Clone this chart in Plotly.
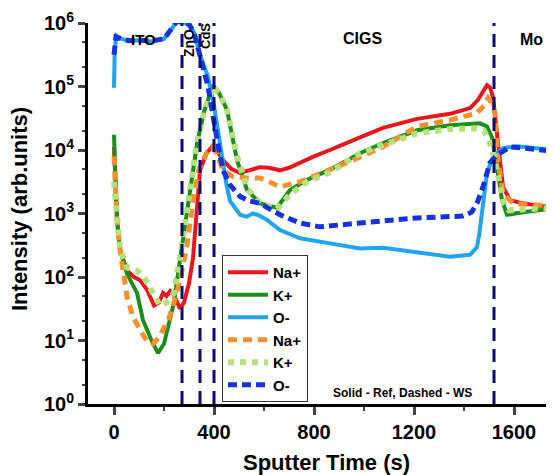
import plotly.graph_objects as go

# ---------------- data (intensities given as log10 decades) -------------
t_na_ref = [0, 4, 12, 24, 52, 80, 104, 132, 160, 180, 196, 210, 225, 240, 252, 264, 280, 300, 316, 332, 344, 370,
            392, 410, 436, 470, 504, 540, 584, 620, 664, 700, 744, 800, 864, 920, 984, 1076, 1212, 1344, 1424,
            1456, 1480, 1492, 1505, 1516, 1536, 1556, 1584, 1636, 1700, 1760]
na_ref_log = [4.05, 3.6, 2.9, 2.43, 2.1, 2.0, 1.95, 1.8, 1.55, 1.6, 1.75, 1.7, 1.78, 1.72, 1.62, 1.5, 1.6, 1.9, 2.3,
              3.0, 3.68, 3.95, 4.05, 4.0, 3.84, 3.7, 3.64, 3.68, 3.73, 3.72, 3.68, 3.72, 3.8, 3.9, 4.0, 4.1, 4.2,
              4.35, 4.49, 4.57, 4.66, 4.79, 4.95, 5.02, 4.98, 4.83, 4.11, 3.42, 3.21, 3.16, 3.12, 3.1]

t_k_ref = [0, 4, 12, 24, 52, 92, 116, 150, 176, 200, 220, 240, 264, 292, 332, 360, 396, 420, 452, 492, 532, 584,
           652, 704, 772, 864, 984, 1076, 1212, 1344, 1464, 1492, 1512, 1532, 1552, 1572, 1600, 1636, 1700, 1760]
k_ref_log = [4.24, 3.7, 2.9, 2.43, 2.05, 1.75, 1.32, 1.0, 0.8, 0.95, 1.3, 1.6, 2.27, 3.05, 4.1, 4.6, 5.02, 4.9,
             4.63, 3.84, 3.37, 3.16, 3.09, 3.37, 3.53, 3.69, 3.95, 4.11, 4.31, 4.39, 4.42, 4.37, 4.2, 3.73, 3.21,
             2.98, 3.0, 3.02, 3.05, 3.08]

t_o_ref = [0, 3, 10, 30, 60, 100, 150, 200, 230, 250, 270, 300, 320, 344, 376, 400, 424, 436, 450, 464, 504, 530,
           556, 580, 612, 664, 744, 864, 984, 1076, 1212, 1344, 1424, 1452, 1462, 1472, 1492, 1516, 1556, 1612,
           1700, 1760]
o_ref_log = [4.98, 5.6, 5.8, 5.75, 5.72, 5.73, 5.71, 5.75, 5.9, 6.02, 6.02, 5.98, 5.85, 5.5, 5.15, 4.7, 4.1, 3.75,
             3.45, 3.2, 2.98, 2.95, 3.0, 2.97, 2.9, 2.74, 2.61, 2.53, 2.45, 2.46, 2.39, 2.32, 2.35, 2.47, 2.7,
             3.06, 3.64, 3.89, 4.03, 4.06, 4.02, 4.0]

t_na_ws = [0, 4, 12, 24, 52, 76, 100, 130, 156, 180, 200, 220, 240, 264, 292, 316, 340, 370, 392, 410, 436, 476,
           530, 584, 620, 664, 744, 864, 956, 1076, 1212, 1344, 1452, 1480, 1496, 1510, 1524, 1536, 1556, 1596,
           1650, 1700, 1760]
na_ws_log = [3.9, 3.5, 2.9, 2.43, 1.69, 1.37, 1.2, 1.0, 0.95, 1.05, 1.2, 1.35, 1.6, 1.95, 2.5, 3.2, 3.7, 3.95,
             4.05, 3.95, 3.68, 3.58, 3.56, 3.56, 3.5, 3.42, 3.5, 3.69, 3.84, 4.05, 4.37, 4.47, 4.58, 4.7, 4.82,
             4.75, 4.58, 3.84, 3.32, 3.16, 3.14, 3.13, 3.13]

t_k_ws = [0, 4, 12, 24, 52, 92, 120, 144, 184, 210, 240, 264, 292, 332, 360, 396, 420, 452, 492, 532, 584, 652,
          704, 772, 864, 984, 1076, 1212, 1344, 1440, 1480, 1500, 1520, 1540, 1560, 1580, 1636, 1700, 1760]
k_ws_log = [3.5, 3.3, 2.9, 2.45, 2.15, 2.1, 2.0, 1.84, 1.55, 1.6, 1.75, 2.3, 3.05, 4.1, 4.6, 5.0, 4.9, 4.63, 3.9,
            3.4, 3.16, 3.07, 3.3, 3.5, 3.65, 3.95, 4.08, 4.26, 4.33, 4.34, 4.3, 4.15, 3.9, 3.5, 3.15, 3.05, 3.07,
            3.08, 3.08]

t_o_ws = [0, 2, 8, 30, 60, 100, 150, 200, 230, 250, 270, 300, 320, 344, 376, 400, 424, 440, 464, 504, 540, 584,
          664, 744, 824, 984, 1212, 1396, 1430, 1452, 1476, 1504, 1532, 1584, 1640, 1700, 1760]
o_ws_log = [5.5, 5.6, 5.78, 5.75, 5.72, 5.73, 5.72, 5.75, 5.9, 6.02, 6.02, 5.98, 5.85, 5.45, 5.0, 4.45, 3.9, 3.65,
            3.45, 3.27, 3.2, 3.16, 2.98, 2.85, 2.79, 2.85, 2.93, 2.96, 3.02, 3.16, 3.42, 3.8, 3.92, 4.05, 4.03,
            4.0, 3.98]

layer_boundaries = [272, 344, 400, 1520]

y_tick_vals = [1, 10, 100, 1000, 10000, 100000, 1000000]
y_tick_text = ["10<sup>0</sup>", "10<sup>1</sup>", "10<sup>2</sup>", "10<sup>3</sup>",
               "10<sup>4</sup>", "10<sup>5</sup>", "10<sup>6</sup>"]
x_tick_vals = [0, 400, 800, 1200, 1600]

# ---------------- styling ----------------
FONT = "Liberation Sans, Arial, sans-serif"
RED, GREEN, LBLUE = "#E8171C", "#1B8E1B", "#1FA4EF"
ORANGE, LGREEN, DBLUE = "#F5912C", "#B6E07E", "#1632E0"
NAVY = "#0B0B7C"


def I(logs):
    return [10 ** v for v in logs]


fig = go.Figure()
series = [
    ("Na+", t_na_ref, na_ref_log, dict(color=RED, width=4)),
    ("K+", t_k_ref, k_ref_log, dict(color=GREEN, width=4)),
    ("O-", t_o_ref, o_ref_log, dict(color=LBLUE, width=4)),
    ("Na+", t_na_ws, na_ws_log, dict(color=ORANGE, width=5, dash="9px,6px")),
    ("K+", t_k_ws, k_ws_log, dict(color=LGREEN, width=6, dash="6px,6px")),
    ("O-", t_o_ws, o_ws_log, dict(color=DBLUE, width=5, dash="9px,5px")),
]
for name, tx, ly, ln in series:
    fig.add_trace(go.Scatter(x=tx, y=I(ly), mode="lines", name=name, line=ln))

for xb in layer_boundaries:
    fig.add_trace(go.Scatter(x=[xb, xb], y=[1, 1e6], mode="lines", showlegend=False, hoverinfo="skip",
                             line=dict(color=NAVY, width=3, dash="13px,8px")))

# the page body adds an 8 px offset; the figure is sized so the plot lands where the reference has it
OFF = 8
W, H = 554 - OFF, 475 - OFF
SL, ST, SR, SB = 88, 23, 554, 404          # plot box in screen pixels
L, T = SL - OFF, ST - OFF
R, B = (554 - SR), (475 - SB)
pw, ph = SR - SL, SB - ST


def px(x):
    return (x - SL) / pw


def py(y):
    return (SB - y) / ph


xr = [-104, 1760]
fig.update_layout(
    width=W, height=H,
    margin=dict(l=L, r=R, t=T, b=B, pad=0, autoexpand=False),
    paper_bgcolor="white", plot_bgcolor="white",
    font=dict(family=FONT, size=15, color="black", weight="bold"),
    showlegend=True,
    legend=dict(x=px(222), y=py(402), xanchor="left", yanchor="bottom",
                bgcolor="white", bordercolor="#333333", borderwidth=1,
                font=dict(family=FONT, size=15, color="black", weight="bold"),
                itemwidth=40, tracegroupgap=0),
    xaxis=dict(range=xr, tickvals=x_tick_vals, ticks="outside", ticklen=8, tickwidth=3,
               showline=True, linewidth=3, linecolor="black", mirror=False, showgrid=False, zeroline=False,
               tickfont=dict(family=FONT, size=20, weight="bold"),
               minor=dict(ticks="outside", ticklen=4, tickwidth=2, dtick=200, tick0=0, showgrid=False)),
    xaxis2=dict(range=xr, overlaying="x", side="top", anchor="y", tickvals=x_tick_vals, ticks="inside",
                ticklen=6, tickwidth=3, showline=True, linewidth=3, linecolor="black", showgrid=False,
                zeroline=False, showticklabels=False,
                minor=dict(ticks="inside", ticklen=4, tickwidth=2, dtick=200, tick0=0, showgrid=False)),
    yaxis=dict(type="log", range=[0, 6], tickvals=y_tick_vals, ticktext=y_tick_text, ticks="outside",
               ticklen=7, tickwidth=3, showline=True, linewidth=3, linecolor="black", mirror=False,
               showgrid=False, zeroline=False,
               tickfont=dict(family=FONT, size=20, weight="bold"),
               minor=dict(ticks="outside", ticklen=3, tickwidth=1.5, showgrid=False)),
)

ann = [
    ("ITO", 143, 40, 0, 15),
    ("ZnO", 189, 43, -90, 14),
    ("CdS", 205, 36, -90, 13),
    ("CIGS", 362, 38, 0, 16),
    ("Mo", 531, 39, 0, 16),
    ("Solid - Ref, Dashed - WS", 402, 393, 0, 12),
    ("Intensity (arb.units)", 19, 209, -90, 22),
    ("Sputter Time (s)", 326, 462, 0, 22),
]
for text, x, y, ang, sz in ann:
    fig.add_annotation(text=text, x=px(x), y=py(y), xref="paper", yref="paper", showarrow=False,
                       xanchor="center", yanchor="middle", textangle=ang,
                       font=dict(family=FONT, size=sz, color="black", weight="bold"))

fig.write_html("out.html")
